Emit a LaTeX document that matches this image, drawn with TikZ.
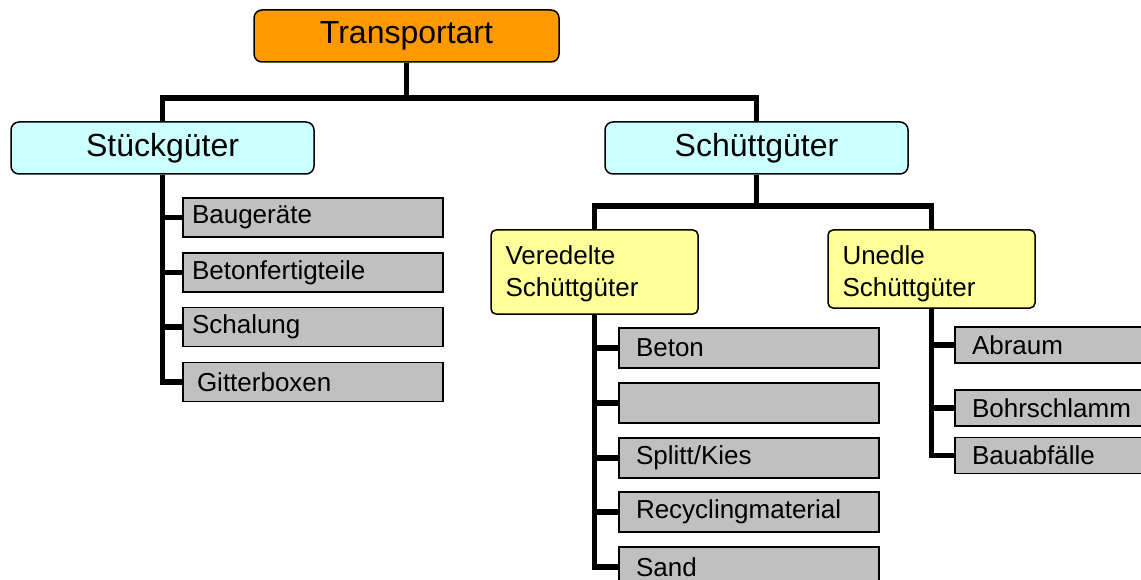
\documentclass[tikz,border=0pt]{standalone}
\usepackage{fontspec}
\setmainfont{Liberation Sans}
\definecolor{orangefill}{HTML}{FF9900}
\definecolor{cyanfill}{HTML}{CCFFFF}
\definecolor{yellowfill}{HTML}{FFFF99}
\definecolor{greyfill}{HTML}{C0C0C0}
\begin{document}
\begin{tikzpicture}[x=1pt,y=-1pt,
  topbox/.style={draw=black, line width=1.5pt, rounded corners=8pt, fill=orangefill,
    minimum width=305pt, minimum height=52pt, inner sep=0pt,
    font=\fontsize{32}{36}\selectfont},
  groupbox/.style={topbox, fill=cyanfill, minimum width=303pt},
  subbox/.style={draw=black, line width=1.5pt, rounded corners=5pt, fill=yellowfill,
    text width=178pt, align=left, inner xsep=14.5pt, inner ysep=0pt,
    minimum width=207pt, font=\fontsize{26}{32}\selectfont},
  item/.style={draw=black, line width=1.5pt, fill=greyfill, align=left, inner ysep=0pt,
    font=\fontsize{26}{30}\selectfont},
  itemL/.style={item, text width=242pt, inner xsep=9pt, minimum height=39pt},
  itemM/.style={item, text width=226pt, inner xsep=17pt, minimum height=40pt},
  itemR/.style={item, text width=206pt, inner xsep=17pt, minimum height=36pt},
  link/.style={line width=5.5pt}
]
\useasboundingbox (0,0) rectangle (1141,580);
\clip (0,0) rectangle (1141,580);

% top level
\node[topbox] (tr) at (406.5,36) {Transportart};

% first level
\node[groupbox] (stk) at (162.5,148) {Stückgüter};
\node[groupbox] (sch) at (756.5,148) {Schüttgüter};

% second level below Schüttgüter
\node[subbox, minimum height=84pt] (ved) at (594.5,272) {\rule{0pt}{23pt}Veredelte\\Schüttgüter};
\node[subbox, minimum height=78pt] (une) at (931.5,269) {\rule{0pt}{29pt}Unedle\\Schüttgüter};

% items of Stückgüter
\node[itemL] (s1) at (313,217.5) {Baugeräte};
\node[itemL] (s2) at (313,272.5) {Betonfertigteile};
\node[itemL] (s3) at (313,327) {Schalung};
\node[itemL] (s4) at (313,382) {\hspace*{5pt}Gitterboxen};

% items of veredelte Schüttgüter
\node[itemM] (v1) at (749,348) {Beton};
\node[itemM] (v2) at (749,403) {};
\node[itemM] (v3) at (749,458) {Splitt/Kies};
\node[itemM] (v4) at (749,512) {Recyclingmaterial};
\node[itemM] (v5) at (749,567) {Sand};

% items of unedle Schüttgüter
\node[itemR] (u1) at (1075,345) {Abraum};
\node[itemR] (u2) at (1075,408) {Bohrschlamm};
\node[itemR] (u3) at (1075,455.5) {Bauabfälle};

% buses
\coordinate (bus1) at (406.5,98);
\coordinate (bus2) at (756.5,206);

\draw[link] (tr.south) -- (bus1);
\draw[link] (stk.north) |- (bus1) -| (sch.north);
\draw[link] (sch.south) -- (bus2);
\draw[link] (ved.north) |- (bus2) -| (une.north);

% trunks and branches
\draw[link] (stk.south) |- (s4.west);
\foreach \n in {s1,s2,s3} \draw[link] (\n.west) -- (\n.west -| stk.south);

\draw[link] (ved.south) |- (v5.west);
\foreach \n in {v1,v2,v3,v4} \draw[link] (\n.west) -- (\n.west -| ved.south);

\draw[link] (une.south) |- (u3.west);
\foreach \n in {u1,u2} \draw[link] (\n.west) -- (\n.west -| une.south);
\end{tikzpicture}
\end{document}
